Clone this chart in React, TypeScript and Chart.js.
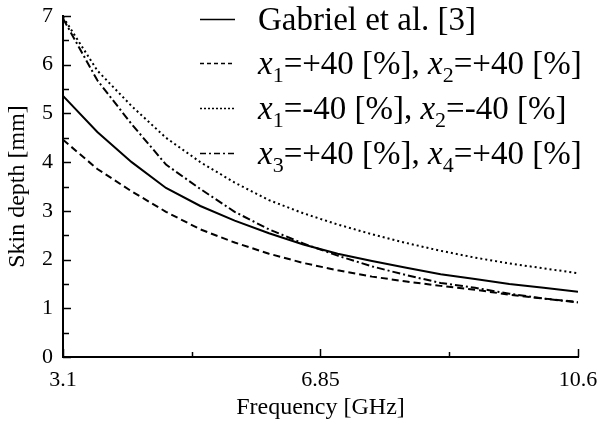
import React, { useEffect, useRef } from "react";
import { Chart, registerables } from "chart.js";
Chart.register(...registerables);

const freq = [3.1, 3.6, 4.1, 4.6, 5.1, 5.6, 6.1, 6.6, 7.1, 7.6, 8.1, 8.6, 9.1, 9.6, 10.1, 10.6];
const gabriel = [5.36, 4.62, 4.0, 3.47, 3.1, 2.8, 2.54, 2.31, 2.12, 1.97, 1.83, 1.7, 1.6, 1.5, 1.42, 1.34];
const x12Plus = [4.46, 3.86, 3.4, 2.98, 2.62, 2.35, 2.12, 1.93, 1.78, 1.65, 1.55, 1.46, 1.38, 1.28, 1.2, 1.13];
const x12Minus = [6.98, 5.88, 5.15, 4.5, 4.0, 3.58, 3.22, 2.95, 2.72, 2.52, 2.34, 2.18, 2.04, 1.92, 1.82, 1.72];
const x34Plus = [6.95, 5.68, 4.78, 3.95, 3.45, 2.98, 2.62, 2.33, 2.08, 1.86, 1.68, 1.52, 1.42, 1.3, 1.2, 1.12];

const xMajorTicks = [3.1, 6.85, 10.6];
const xMinorTicks = [4.975, 8.725];
const yMajorTicks = [0, 1, 2, 3, 4, 5, 6, 7];
const yMinorTicks = [0.5, 1.5, 2.5, 3.5, 4.5, 5.5, 6.5];

type Part = { t: string; i?: boolean; sub?: boolean };
const legendRows: Part[][] = [
  [{ t: "Gabriel et al. [3]" }],
  [{ t: "x", i: true }, { t: "1", sub: true }, { t: "=+40 [%], " }, { t: "x", i: true }, { t: "2", sub: true }, { t: "=+40 [%]" }],
  [{ t: "x", i: true }, { t: "1", sub: true }, { t: "=-40 [%], " }, { t: "x", i: true }, { t: "2", sub: true }, { t: "=-40 [%]" }],
  [{ t: "x", i: true }, { t: "3", sub: true }, { t: "=+40 [%], " }, { t: "x", i: true }, { t: "4", sub: true }, { t: "=+40 [%]" }],
];
const legendDashes: number[][] = [[], [4, 3], [2, 2], [6, 3, 2, 3]];
const plotDashes: number[][] = [[], [7, 4], [2, 3], [8, 3, 2, 3]];

const SERIF = '"Liberation Serif", "Times New Roman", serif';

const inwardTicks = {
  id: "inwardTicks",
  afterDraw(chart: any) {
    const { ctx, chartArea, scales } = chart;
    ctx.save();
    ctx.strokeStyle = "#000";
    ctx.lineWidth = 1.5;
    const drawX = (vals: number[], len: number) => {
      vals.forEach((v) => {
        const px = Math.round(scales.x.getPixelForValue(v)) + 0.5;
        ctx.beginPath();
        ctx.moveTo(px, chartArea.bottom);
        ctx.lineTo(px, chartArea.bottom - len);
        ctx.stroke();
      });
    };
    const drawY = (vals: number[], len: number) => {
      vals.forEach((v) => {
        const py = Math.round(scales.y.getPixelForValue(v)) + 0.5;
        ctx.beginPath();
        ctx.moveTo(chartArea.left, py);
        ctx.lineTo(chartArea.left + len, py);
        ctx.stroke();
      });
    };
    drawX(xMajorTicks, 8);
    drawX(xMinorTicks, 5);
    drawY(yMajorTicks, 8);
    drawY(yMinorTicks, 6);
    ctx.restore();
  },
};

const customLegend = {
  id: "customLegend",
  afterDraw(chart: any) {
    const { ctx } = chart;
    const lineY = [19, 63, 108, 153];
    const size = 33;
    ctx.save();
    legendRows.forEach((row, r) => {
      const y = lineY[r];
      ctx.strokeStyle = "#000";
      ctx.lineWidth = 1.5;
      ctx.setLineDash(legendDashes[r]);
      ctx.beginPath();
      ctx.moveTo(200, y + 0.5);
      ctx.lineTo(235, y + 0.5);
      ctx.stroke();
      ctx.setLineDash([]);
      let x = 258;
      const base = y + 11;
      ctx.fillStyle = "#000";
      ctx.textBaseline = "alphabetic";
      ctx.textAlign = "left";
      row.forEach((p) => {
        if (p.sub) {
          ctx.font = `${Math.round(size * 0.66)}px ${SERIF}`;
          ctx.fillText(p.t, x, base + 8);
        } else if (p.i) {
          ctx.font = `italic ${size}px ${SERIF}`;
          ctx.fillText(p.t, x, base);
        } else {
          ctx.font = `${size}px ${SERIF}`;
          ctx.fillText(p.t, x, base);
        }
        x += ctx.measureText(p.t).width;
      });
    });
    ctx.restore();
  },
};

export default function App() {
  const ref = useRef<HTMLCanvasElement>(null);
  useEffect(() => {
    document.body.style.margin = "0";
    const mk = (vals: number[]) => freq.map((f, i) => ({ x: f, y: vals[i] }));
    const series = [gabriel, x12Plus, x12Minus, x34Plus];
    const chart = new Chart(ref.current!, {
      type: "line",
      data: {
        datasets: series.map((s, k) => ({
          data: mk(s),
          borderColor: "#000",
          borderWidth: 2,
          borderDash: plotDashes[k],
          pointRadius: 0,
          tension: 0,
          fill: false,
        })),
      },
      options: {
        animation: false,
        responsive: false,
        layout: { padding: { top: 16, right: 19, left: 0, bottom: 0 } },
        plugins: { legend: { display: false }, tooltip: { enabled: false } },
        scales: {
          x: {
            type: "linear",
            min: 3.1,
            max: 10.6,
            afterBuildTicks: (axis: any) => {
              axis.ticks = xMajorTicks.map((v) => ({ value: v }));
            },
            afterFit: (scale: any) => {
              scale.height = 68;
              scale.paddingLeft = 0;
              scale.paddingRight = 0;
            },
            grid: { display: false, drawTicks: false },
            border: { display: true, color: "#000", width: 2 },
            ticks: {
              padding: 10,
              color: "#000",
              font: { family: SERIF, size: 22 },
              maxRotation: 0,
              autoSkip: false,
              callback: (v: any) => String(v),
            },
            title: {
              display: true,
              text: "Frequency [GHz]",
              color: "#000",
              font: { family: SERIF, size: 24 },
              padding: { top: 0, bottom: 3 },
            },
          },
          y: {
            type: "linear",
            min: 0,
            max: 7,
            afterBuildTicks: (axis: any) => {
              axis.ticks = yMajorTicks.map((v) => ({ value: v }));
            },
            afterFit: (scale: any) => {
              scale.width = 63;
              scale.paddingTop = 0;
              scale.paddingBottom = 0;
            },
            grid: { display: false, drawTicks: false },
            border: { display: true, color: "#000", width: 2 },
            ticks: {
              padding: 10,
              color: "#000",
              font: { family: SERIF, size: 22 },
              callback: (v: any) => String(v),
            },
            title: {
              display: true,
              text: "Skin depth [mm]",
              color: "#000",
              font: { family: SERIF, size: 24 },
              padding: { top: 3, bottom: 0 },
            },
          },
        },
      },
      plugins: [inwardTicks, customLegend],
    });
    return () => chart.destroy();
  }, []);
  return (
    <div style={{ width: 597, height: 425 }}>
      <canvas ref={ref} width={597} height={425} />
    </div>
  );
}
